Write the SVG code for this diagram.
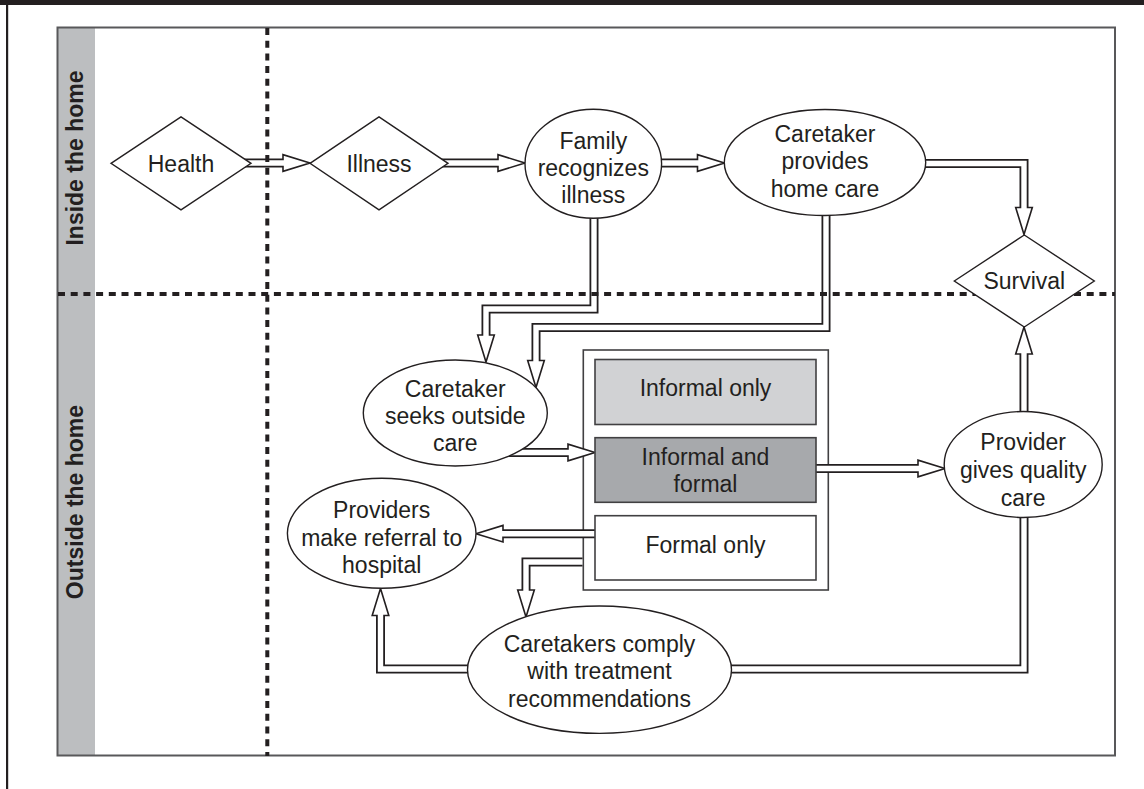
<svg xmlns="http://www.w3.org/2000/svg" xmlns:xlink="http://www.w3.org/1999/xlink" width="1144" height="789" viewBox="0 0 1144 789">
<style>
text{font-family:"Liberation Sans",Arial,Helvetica,sans-serif;font-size:23px;fill:#231f20;text-anchor:middle}
.lane{font-weight:bold}
.nd{fill:#fff;stroke:#231f20;stroke-width:1.4}
.bx{stroke:#414042;stroke-width:1.6}
.co{fill:none;stroke:#231f20;stroke-width:9;stroke-linejoin:miter}
.ci{fill:none;stroke:#fff;stroke-width:5.4;stroke-linejoin:miter}
.dash{fill:none;stroke:#231f20;stroke-width:4;stroke-dasharray:7 5.7}
</style>
<defs>
<path id="ah" d="M0,0 L-27,-8.3 L-27,8.3 Z" fill="#fff" stroke="#231f20" stroke-width="1.6"/>
</defs>
<rect width="1144" height="789" fill="#fff"/>
<rect x="0" y="0" width="1144" height="5" fill="#231f20"/>
<rect x="6" y="0" width="2.2" height="789" fill="#231f20"/>
<g id="lanes">
<rect x="58" y="28" width="37" height="727" fill="#bcbec0"/>
<rect x="57.5" y="27.5" width="1057.5" height="728" fill="none" stroke="#58585a" stroke-width="2"/>
<text class="lane" transform="translate(83,158) rotate(-90)">Inside the home</text>
<text class="lane" transform="translate(83,502) rotate(-90)">Outside the home</text>
</g>
<g id="container">
<rect class="bx" x="583.3" y="350" width="245" height="240" fill="#fff"/>
</g>
<g id="connectors">
<path class="co" d="M244,163 H283"/><use xlink:href="#ah" transform="translate(310,163)"/><path class="ci" d="M244,163 H285"/>
<path class="co" d="M441,163 H498"/><use xlink:href="#ah" transform="translate(525,163)"/><path class="ci" d="M441,163 H500"/>
<path class="co" d="M655,163 H697.5"/><use xlink:href="#ah" transform="translate(724.5,163)"/><path class="ci" d="M655,163 H699.5"/>
<path class="co" d="M915,163.5 H1024 V207.5"/><use xlink:href="#ah" transform="translate(1024,234.5) rotate(90)"/><path class="ci" d="M915,163.5 H1024 V209.5"/>
<path class="co" d="M594,210 V309 H486 V335.5"/><use xlink:href="#ah" transform="translate(486,362) rotate(90)"/><path class="ci" d="M594,210 V309 H486 V337.5"/>
<path class="co" d="M826,205 V327.5 H536 V360.5"/><use xlink:href="#ah" transform="translate(536,387.5) rotate(90)"/><path class="ci" d="M826,205 V327.5 H536 V362.5"/>
<path class="co" d="M500,452.5 H568"/><use xlink:href="#ah" transform="translate(595,452.5)"/><path class="ci" d="M500,452.5 H570"/>
<path class="co" d="M810,468.5 H918"/><use xlink:href="#ah" transform="translate(945,468.5)"/><path class="ci" d="M810,468.5 H920"/>
<path class="co" d="M1024,420 V354"/><use xlink:href="#ah" transform="translate(1024,327) rotate(-90)"/><path class="ci" d="M1024,420 V352"/>
<path class="co" d="M725,669 H1024 V510"/><path class="ci" d="M725,669 H1024 V510"/>
<path class="co" d="M600,533.7 H503"/><use xlink:href="#ah" transform="translate(476,533.7) rotate(180)"/><path class="ci" d="M600,533.7 H501"/>
<path class="co" d="M582.5,562 H526 V590"/><use xlink:href="#ah" transform="translate(526,617) rotate(90)"/><path class="ci" d="M582.5,562 H526 V592"/>
<path class="co" d="M472,669 H380.5 V615.5"/><use xlink:href="#ah" transform="translate(380.5,588.5) rotate(-90)"/><path class="ci" d="M472,669 H380.5 V613.5"/>
</g>
<g id="dividers">
<path class="dash" d="M267.3,28 V756"/>
<path class="dash" d="M58,294 H1115"/>
</g>
<g id="health"><polygon class="nd" points="111,163.3 181,116.8 251,163.3 181,209.8"/><text x="181" y="171.5">Health</text></g>
<g id="illness"><polygon class="nd" points="310,163.3 379,116.8 448,163.3 379,209.8"/><text x="379" y="171.5">Illness</text></g>
<g id="family"><ellipse class="nd" cx="593.3" cy="163.8" rx="68.3" ry="54.5"/><text x="593.3" y="149">Family</text><text x="593.3" y="176">recognizes</text><text x="593.3" y="203">illness</text></g>
<g id="homecare"><ellipse class="nd" cx="825" cy="162.5" rx="100.7" ry="53"/><text x="825" y="141.7">Caretaker</text><text x="825" y="169">provides</text><text x="825" y="196.5">home care</text></g>
<g id="survival"><polygon class="nd" points="954.3,281 1024.3,235 1094.3,281 1024.3,327"/><text x="1024.3" y="288.5">Survival</text></g>
<g id="seeks"><ellipse class="nd" cx="455.3" cy="413" rx="92" ry="53"/><text x="455.3" y="396.7">Caretaker</text><text x="455.3" y="423.5">seeks outside</text><text x="455.3" y="450.7">care</text></g>
<g id="informal"><rect class="bx" x="595" y="359.5" width="221" height="65" fill="#d1d2d4"/><text x="705.5" y="395.5">Informal only</text></g>
<g id="mixed"><rect class="bx" x="595" y="437.7" width="221" height="64.6" fill="#a7a9ac"/><text x="705.5" y="465">Informal and</text><text x="705.5" y="492.3">formal</text></g>
<g id="formal"><rect class="bx" x="595" y="515.7" width="221" height="64.3" fill="#fff"/><text x="705.5" y="553.3">Formal only</text></g>
<g id="provider"><ellipse class="nd" cx="1023.2" cy="464.5" rx="79" ry="53"/><text x="1023.2" y="450">Provider</text><text x="1023.2" y="477.8">gives quality</text><text x="1023.2" y="505.7">care</text></g>
<g id="referral"><ellipse class="nd" cx="381.7" cy="533.3" rx="94.3" ry="55"/><text x="381.7" y="517.7">Providers</text><text x="381.7" y="545.5">make referral to</text><text x="381.7" y="573.3">hospital</text></g>
<g id="comply"><ellipse class="nd" cx="599.5" cy="669.7" rx="132" ry="63.7"/><text x="599.5" y="651.7">Caretakers comply</text><text x="599.5" y="679.3">with treatment</text><text x="599.5" y="706.7">recommendations</text></g>
</svg>
